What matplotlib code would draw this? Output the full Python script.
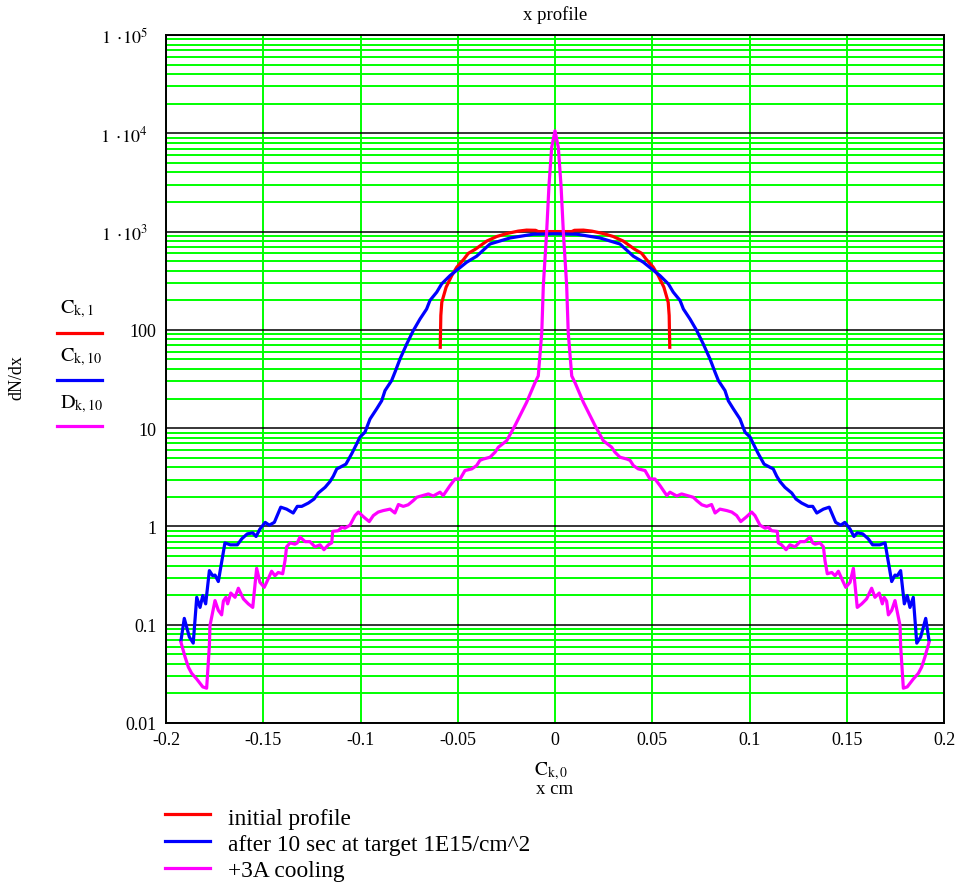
import matplotlib
matplotlib.use("Agg")
import matplotlib.pyplot as plt
from matplotlib.lines import Line2D
from matplotlib.transforms import ScaledTranslation
from matplotlib.ticker import FixedLocator, FixedFormatter, LogLocator, NullFormatter

plt.rcParams['font.family'] = ['Liberation Serif', 'DejaVu Serif']
plt.rcParams['mathtext.fontset'] = 'stix'

# ---------------- data ----------------
red_x = [-0.0590, -0.0587, -0.0582, -0.0560, -0.0531, -0.0505, -0.0470, -0.0446, -0.0410,
         -0.0351, -0.0300, -0.0248, -0.0190, -0.0146, -0.0100, -0.0086, 0.0,
         0.0086, 0.0100, 0.0146, 0.0190, 0.0248, 0.0300, 0.0351, 0.0410, 0.0446, 0.0470,
         0.0505, 0.0531, 0.0560, 0.0582, 0.0587, 0.0590]
red_y = [66.5, 140, 191, 271, 356, 434, 520, 600, 660,
         800, 890, 955, 1010, 1035, 1030, 1000, 1000,
         1000, 1030, 1035, 1010, 955, 890, 800, 660, 600, 520,
         434, 356, 271, 191, 140, 66.5]

blue_x = [-0.1923, -0.1906, -0.1880, -0.1860, -0.1842, -0.1825, -0.1811, -0.1796, -0.1777, -0.1760,
          -0.1748, -0.1731, -0.1697, -0.1670, -0.1633, -0.1610, -0.1582, -0.1554, -0.1537, -0.1517,
          -0.1490, -0.1469, -0.1443, -0.1410, -0.1380, -0.1346, -0.1325, -0.1302, -0.1268, -0.1239,
          -0.1217, -0.1182, -0.1157, -0.1140, -0.1122, -0.1105, -0.1075, -0.1045, -0.1020, -0.1003,
          -0.0977, -0.0951, -0.0917, -0.0891, -0.0874, -0.0840, -0.0823, -0.0797, -0.0762, -0.0729,
          -0.0694, -0.0660, -0.0643, -0.0608, -0.0583, -0.0540, -0.0497, -0.0454, -0.0403, -0.0334,
          -0.0231, -0.0112, 0.0,
          0.0112, 0.0231, 0.0334, 0.0403, 0.0454, 0.0497, 0.0540, 0.0583, 0.0608, 0.0643,
          0.0660, 0.0694, 0.0729, 0.0762, 0.0797, 0.0823, 0.0840, 0.0874, 0.0891, 0.0917,
          0.0951, 0.0977, 0.1003, 0.1020, 0.1045, 0.1075, 0.1105, 0.1122, 0.1140, 0.1157,
          0.1182, 0.1217, 0.1239, 0.1268, 0.1302, 0.1325, 0.1346, 0.1380, 0.1410, 0.1443,
          0.1469, 0.1490, 0.1517, 0.1537, 0.1554, 0.1582, 0.1610, 0.1633, 0.1670, 0.1697,
          0.1731, 0.1748, 0.1760, 0.1777, 0.1796, 0.1811, 0.1825, 0.1842, 0.1860, 0.1880,
          0.1906, 0.1923]
blue_y = [0.069, 0.116, 0.075, 0.065, 0.19, 0.15, 0.198, 0.163, 0.355, 0.315,
          0.32, 0.275, 0.68, 0.65, 0.65, 0.75, 0.84, 0.86, 0.79, 0.94,
          1.1, 1.03, 1.1, 1.57, 1.5, 1.37, 1.6, 1.6, 1.73, 1.9,
          2.19, 2.5, 2.86, 3.24, 3.85, 4.0, 4.3, 5.5, 6.9, 8.1,
          9.1, 12.4, 15.7, 19.0, 24.1, 30.5, 37, 50.5, 72, 98,
          129, 163, 199, 242, 293, 356, 417, 488, 561, 748,
          861, 940, 950,
          940, 861, 748, 561, 488, 417, 356, 293, 242, 199,
          163, 129, 98, 72, 50.5, 37, 30.5, 24.1, 19.0, 15.7,
          12.4, 9.1, 8.1, 6.9, 5.5, 4.3, 4.0, 3.85, 3.24, 2.86,
          2.5, 2.19, 1.9, 1.73, 1.6, 1.6, 1.37, 1.5, 1.57, 1.1,
          1.03, 1.1, 0.94, 0.79, 0.86, 0.84, 0.75, 0.65, 0.65, 0.68,
          0.275, 0.32, 0.315, 0.355, 0.163, 0.198, 0.15, 0.19, 0.065, 0.075,
          0.116, 0.069]

mag_x = [-0.1923, -0.1902, -0.1885, -0.1868, -0.1842, -0.1811, -0.1791, -0.1777, -0.1774, -0.1748,
         -0.1731, -0.1714, -0.1705, -0.1692, -0.1683, -0.1667, -0.1645, -0.1628, -0.1602, -0.1577,
         -0.1554, -0.1534, -0.1517, -0.1495, -0.1479, -0.1457, -0.1440, -0.1423, -0.1400, -0.1388,
         -0.1380, -0.1362, -0.1337, -0.1325, -0.1311, -0.1285, -0.1260, -0.1234, -0.1208, -0.1188,
         -0.1165, -0.1148, -0.1143, -0.1114, -0.1097, -0.1080, -0.1054, -0.1028, -0.1011, -0.0982,
         -0.0955, -0.0934, -0.0909, -0.0883, -0.0848, -0.0823, -0.0805, -0.0780, -0.0755, -0.0729,
         -0.0711, -0.0651, -0.0626, -0.0591, -0.0575, -0.0540, -0.0514, -0.0488, -0.0463, -0.0428,
         -0.0403, -0.0386, -0.0369, -0.0334, -0.0308, -0.0291, -0.0248, -0.0206, -0.0146, -0.0103,
         -0.0086, -0.0068, -0.0060, -0.0043, -0.0031, -0.0017, 0.0,
         0.0017, 0.0031, 0.0043, 0.0060, 0.0068, 0.0086, 0.0103, 0.0146, 0.0206, 0.0248,
         0.0291, 0.0308, 0.0334, 0.0369, 0.0386, 0.0403, 0.0428, 0.0463, 0.0488, 0.0514,
         0.0540, 0.0575, 0.0591, 0.0626, 0.0651, 0.0711, 0.0729, 0.0755, 0.0780, 0.0805,
         0.0823, 0.0848, 0.0883, 0.0909, 0.0934, 0.0955, 0.0982, 0.1011, 0.1028, 0.1054,
         0.1080, 0.1097, 0.1114, 0.1143, 0.1148, 0.1165, 0.1188, 0.1208, 0.1234, 0.1260,
         0.1285, 0.1311, 0.1325, 0.1337, 0.1362, 0.1380, 0.1388, 0.1400, 0.1423, 0.1440,
         0.1457, 0.1479, 0.1495, 0.1517, 0.1534, 0.1554, 0.1577, 0.1602, 0.1628, 0.1645,
         0.1667, 0.1683, 0.1692, 0.1705, 0.1714, 0.1731, 0.1748, 0.1774, 0.1777, 0.1791,
         0.1811, 0.1842, 0.1868, 0.1885, 0.1902, 0.1923]
mag_y = [0.066, 0.047, 0.037, 0.032, 0.028, 0.0233, 0.0226, 0.061, 0.098, 0.176,
         0.14, 0.126, 0.174, 0.19, 0.163, 0.21, 0.19, 0.235, 0.183, 0.163,
         0.15, 0.375, 0.27, 0.24, 0.28, 0.35, 0.315, 0.34, 0.33, 0.45,
         0.62, 0.68, 0.66, 0.68, 0.78, 0.70, 0.70, 0.62, 0.65, 0.58,
         0.65, 0.68, 0.89, 0.905, 0.98, 0.96, 1.03, 1.29, 1.4, 1.24,
         1.12, 1.29, 1.4, 1.45, 1.5, 1.37, 1.67, 1.6, 1.66, 1.83,
         1.98, 2.14, 2.04, 2.23, 2.06, 2.6, 3.04, 3.04, 3.7, 3.85,
         4.16, 4.7, 4.85, 5.06, 5.7, 6.4, 7.46, 10.6, 18.3, 29,
         34, 94, 282, 985, 2930, 7200, 10600,
         7200, 2930, 985, 282, 94, 34, 29, 18.3, 10.6, 7.46,
         6.4, 5.7, 5.06, 4.85, 4.7, 4.16, 3.85, 3.7, 3.04, 3.04,
         2.6, 2.06, 2.23, 2.04, 2.14, 1.98, 1.83, 1.66, 1.6, 1.67,
         1.37, 1.5, 1.45, 1.4, 1.29, 1.12, 1.24, 1.4, 1.29, 1.03,
         0.96, 0.98, 0.905, 0.89, 0.68, 0.65, 0.58, 0.65, 0.62, 0.70,
         0.70, 0.78, 0.68, 0.66, 0.68, 0.62, 0.45, 0.33, 0.34, 0.315,
         0.35, 0.28, 0.24, 0.27, 0.375, 0.15, 0.163, 0.183, 0.235, 0.19,
         0.21, 0.163, 0.19, 0.174, 0.126, 0.14, 0.176, 0.098, 0.061, 0.0226,
         0.0233, 0.028, 0.032, 0.037, 0.047, 0.066]

x_ticks = [-0.2, -0.15, -0.1, -0.05, 0, 0.05, 0.1, 0.15, 0.2]
x_tick_labels = ['-0.2', '-0.15', '-0.1', '-0.05', '0', '0.05', '0.1', '0.15', '0.2']
y_ticks = [0.01, 0.1, 1, 10, 100, 1e3, 1e4, 1e5]
y_tick_labels = ['0.01', '0.1', '1', '10', '100',
                 r'$1\ \cdot\!10^{3}$', r'$1\ \cdot\!10^{4}$', r'$1\ \cdot\!10^{5}$']

series_labels = ['initial profile', 'after 10 sec at target 1E15/cm^2', '+3A cooling']
trace_names = [r'$\mathrm{C}_{\mathrm{k,1}}$', r'$\mathrm{C}_{\mathrm{k,10}}$', r'$\mathrm{D}_{\mathrm{k,10}}$']
colors = ['#ff0000', '#0000ff', '#ff00ff']

# ---------------- figure ----------------
W, H = 959, 887
fig = plt.figure(figsize=(W / 100, H / 100), dpi=100)
L, R, T, B = 166, 944, 36, 724
ax = fig.add_axes([L / W, 1 - B / H, (R - L) / W, (B - T) / H])

ax.set_yscale('log')
ax.set_xlim(-0.2, 0.2)
ax.set_ylim(0.01, 1e5)

ax.xaxis.set_major_locator(FixedLocator(x_ticks))
ax.xaxis.set_major_formatter(FixedFormatter(x_tick_labels))
ax.yaxis.set_major_locator(FixedLocator(y_ticks))
ax.yaxis.set_major_formatter(FixedFormatter(y_tick_labels))
ax.yaxis.set_minor_locator(LogLocator(base=10, subs=[2, 3, 4, 5, 6, 7, 8, 9], numticks=20))
ax.yaxis.set_minor_formatter(NullFormatter())
ax.tick_params(axis='both', which='both', length=0)
ax.tick_params(axis='y', pad=7, labelsize=13)
ax.tick_params(axis='x', pad=6, labelsize=13)

green = '#00ff00'
ax.grid(which='minor', axis='y', color=green, lw=1.4, zorder=0)
ax.grid(which='major', axis='x', color=green, lw=1.4, zorder=0)
ax.grid(which='major', axis='y', color='black', lw=1.1, zorder=1)
ax.set_axisbelow(True)
for s in ax.spines.values():
    s.set_color('black')
    s.set_linewidth(1.4)

lw = 2.3
ax.plot(red_x, red_y, color=colors[0], lw=lw, zorder=3)
ax.plot(blue_x, blue_y, color=colors[1], lw=lw, zorder=4)
ax.plot(mag_x, mag_y, color=colors[2], lw=lw, zorder=5)

# shift the power-of-ten labels a little further left, as in the reference
fig.canvas.draw()
for tick in ax.yaxis.get_major_ticks()[5:]:
    tick.label1.set_transform(tick.label1.get_transform() +
                              ScaledTranslation(-8 / 100, 0, fig.dpi_scale_trans))

# title
fig.text(555 / W, 1 - 15 / H, 'x profile', ha='center', va='center', fontsize=13.5)

# y label & trace legend on the left
fig.text(17 / W, 1 - 378 / H, 'dN/dx', rotation=90, ha='center', va='center', fontsize=13)
name_y = [309, 357, 404]
line_y = [334, 381, 427]
for name, ny, ly, c in zip(trace_names, name_y, line_y, colors):
    fig.text(60 / W, 1 - ny / H, name, ha='left', va='center', fontsize=14.5)
    fig.add_artist(Line2D([57 / W, 102 / W], [1 - ly / H, 1 - ly / H], color=c, lw=lw,
                          transform=fig.transFigure))

# x label
fig.text(551 / W, 1 - 771 / H, r'$\mathrm{C}_{\mathrm{k,0}}$', ha='center', va='center', fontsize=14)
fig.text(555 / W, 1 - 790 / H, 'x cm', ha='center', va='center', fontsize=13.5)

# bottom legend
leg_line_y = [815, 842, 869]
leg_text_y = [820, 846, 872]
for lab, ly, ty, c in zip(series_labels, leg_line_y, leg_text_y, colors):
    fig.add_artist(Line2D([165 / W, 210 / W], [1 - ly / H, 1 - ly / H], color=c, lw=lw,
                          transform=fig.transFigure))
    fig.text(228 / W, 1 - ty / H, lab, ha='left', va='center', fontsize=16.8)

fig.savefig('out.png', dpi=100)
